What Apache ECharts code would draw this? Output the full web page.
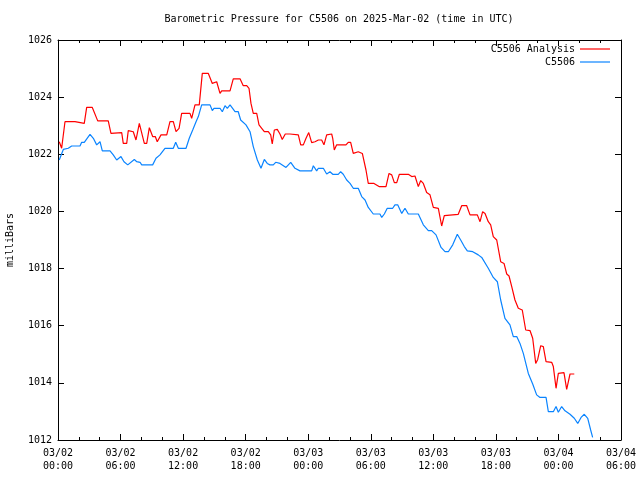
<!DOCTYPE html>
<html>
<head>
<meta charset="utf-8">
<script src="https://cdn.jsdelivr.net/npm/echarts@6/dist/echarts.min.js"></script>
<style>html,body{margin:0;padding:0;background:#fff}#c{width:640px;height:480px}</style>
</head>
<body>
<div id="c"></div>
<script>
// Hours since 2025-03-02 00:00 UTC
const xTickLabels = ['03/02\n00:00','03/02\n06:00','03/02\n12:00','03/02\n18:00','03/03\n00:00','03/03\n06:00','03/03\n12:00','03/03\n18:00','03/04\n00:00','03/04\n06:00'];
const yTicks = [1012, 1014, 1016, 1018, 1020, 1022, 1024, 1026];

const analysisTime = [0.12,0.35,0.67,1.63,1.79,2.52,2.75,3.29,3.81,4.82,5.08,6.11,6.26,6.59,6.74,7.22,7.48,7.80,8.28,8.51,8.76,9.08,9.33,9.52,9.88,10.43,10.74,11.06,11.32,11.61,11.86,12.66,12.82,13.14,13.55,13.84,14.42,14.58,14.80,15.22,15.54,15.70,16.50,16.81,17.46,17.77,18.10,18.32,18.51,18.73,19.06,19.28,19.54,19.79,20.17,20.40,20.55,20.75,21.03,21.29,21.51,21.80,22.25,22.42,23.05,23.28,23.53,23.79,24.05,24.33,24.65,24.97,25.29,25.51,25.77,26.25,26.35,26.50,26.73,27.62,27.84,28.07,28.32,28.80,29.19,29.54,29.76,30.31,30.50,30.79,31.46,31.75,32.01,32.26,32.49,32.74,33.60,33.93,34.24,34.56,34.79,35.04,35.36,35.68,36.00,36.48,36.80,37.05,38.39,38.72,39.20,39.52,40.22,40.48,40.73,40.96,41.27,41.50,41.75,42.08,42.46,42.78,43.04,43.26,43.52,43.83,44.15,44.53,44.86,45.27,45.53,45.82,46.01,46.30,46.55,46.81,47.35,47.51,47.77,47.99,48.53,48.79,49.11,49.52];
const analysisValue = [1022.44,1022.21,1023.14,1023.14,1023.08,1023.08,1023.64,1023.64,1023.17,1023.17,1022.73,1022.76,1022.38,1022.38,1022.83,1022.79,1022.50,1023.08,1022.38,1022.38,1022.93,1022.62,1022.62,1022.44,1022.68,1022.68,1023.14,1023.14,1022.79,1022.91,1023.43,1023.43,1023.26,1023.73,1023.73,1024.83,1024.83,1024.78,1024.48,1024.54,1024.13,1024.22,1024.22,1024.64,1024.64,1024.40,1024.40,1024.31,1023.78,1023.43,1023.43,1023.03,1022.91,1022.79,1022.79,1022.68,1022.36,1022.85,1022.87,1022.71,1022.52,1022.71,1022.71,1022.68,1022.68,1022.33,1022.33,1022.56,1022.76,1022.41,1022.44,1022.50,1022.50,1022.33,1022.68,1022.71,1022.56,1022.15,1022.33,1022.33,1022.42,1022.42,1022.03,1022.09,1022.03,1021.45,1020.98,1020.98,1021.04,1020.87,1020.87,1021.33,1021.28,1021.01,1021.01,1021.30,1021.30,1021.22,1021.24,1020.87,1021.08,1020.98,1020.66,1020.58,1020.14,1020.11,1019.49,1019.85,1019.90,1020.20,1020.20,1019.88,1019.88,1019.64,1019.99,1019.93,1019.64,1019.53,1019.12,1019.00,1018.24,1018.18,1017.81,1017.74,1017.37,1016.90,1016.61,1016.55,1015.85,1015.83,1015.56,1014.68,1014.82,1015.30,1015.27,1014.74,1014.72,1014.57,1013.81,1014.33,1014.36,1013.77,1014.31,1014.31];

const stationTime = [0.12,0.51,0.99,1.31,2.11,2.27,2.52,3.07,3.39,3.71,4.03,4.25,4.99,5.30,5.63,5.78,6.04,6.33,6.69,7.32,7.55,7.87,8.03,9.08,9.40,9.78,10.26,11.06,11.29,11.54,12.28,12.59,12.92,13.24,13.46,13.78,14.58,14.80,14.96,15.54,15.76,16.02,16.24,16.50,16.98,17.29,17.52,18.03,18.42,18.73,19.12,19.47,19.79,20.07,20.33,20.65,20.88,21.29,21.87,22.32,22.73,23.21,24.33,24.49,24.81,24.97,25.45,25.77,26.09,26.35,26.88,27.11,27.36,27.69,28.01,28.32,28.80,29.13,29.45,29.76,30.24,30.88,31.05,31.30,31.58,32.10,32.32,32.58,32.97,33.28,33.60,34.56,35.04,35.52,35.84,36.26,36.74,37.12,37.44,37.86,38.30,38.65,38.97,39.26,39.78,40.31,40.64,40.79,41.27,41.75,42.14,42.46,42.87,43.35,43.67,44.00,44.31,44.63,45.11,45.53,45.91,46.23,46.81,47.03,47.51,47.77,47.99,48.31,48.63,49.11,49.52,49.85,50.17,50.48,50.81,51.09,51.28];
const stationValue = [1021.80,1022.17,1022.21,1022.29,1022.29,1022.42,1022.42,1022.70,1022.56,1022.33,1022.44,1022.12,1022.12,1021.98,1021.80,1021.74,1021.92,1021.74,1021.63,1021.82,1021.74,1021.72,1021.63,1021.63,1021.86,1021.98,1022.21,1022.21,1022.42,1022.21,1022.21,1022.56,1022.85,1023.14,1023.32,1023.73,1023.73,1023.53,1023.61,1023.61,1023.49,1023.70,1023.61,1023.73,1023.49,1023.49,1023.20,1023.03,1022.79,1022.27,1021.80,1021.51,1021.82,1021.68,1021.63,1021.63,1021.72,1021.68,1021.54,1021.72,1021.51,1021.42,1021.42,1021.60,1021.42,1021.51,1021.51,1021.31,1021.39,1021.30,1021.30,1021.39,1021.30,1021.10,1020.98,1020.81,1020.81,1020.52,1020.40,1020.14,1019.91,1019.91,1019.79,1019.91,1020.11,1020.11,1020.23,1020.23,1019.93,1020.11,1019.91,1019.91,1019.53,1019.33,1019.33,1019.18,1018.74,1018.59,1018.59,1018.83,1019.20,1018.98,1018.77,1018.62,1018.59,1018.48,1018.39,1018.39,1018.01,1017.69,1017.54,1016.90,1016.26,1016.03,1015.62,1015.62,1015.38,1015.03,1014.33,1013.96,1013.58,1013.49,1013.49,1012.99,1012.99,1013.17,1012.97,1013.17,1013.02,1012.90,1012.76,1012.58,1012.79,1012.90,1012.76,1012.35,1012.09];

const FONT = 'DejaVu Sans Mono';
const zip = (a, b) => a.map((t, i) => [t, b[i]]);

const chart = echarts.init(document.getElementById('c'), null, {renderer: 'canvas'});
const axisLine = {show: true, onZero: false, lineStyle: {color: '#000', width: 1}};
const xBase = {
  type: 'value', min: 0, max: 54, interval: 6,
  axisLine: axisLine,
  axisTick: {show: true, inside: true, length: 6, lineStyle: {color: '#000'}},
  minorTick: {show: true, splitNumber: 3, length: 3, lineStyle: {color: '#000'}},
  splitLine: {show: false}
};
const yBase = {
  type: 'value', min: yTicks[0], max: yTicks[yTicks.length - 1], interval: 2,
  axisLine: axisLine,
  axisTick: {show: true, inside: true, length: 6, lineStyle: {color: '#000'}},
  splitLine: {show: false}
};
const lineIcon = 'path://M0,0L30,0L30,1.2L0,1.2Z';

chart.setOption({
  animation: false,
  backgroundColor: '#fff',
  textStyle: {fontFamily: FONT},
  title: {
    text: 'Barometric Pressure for C5506 on 2025-Mar-02 (time in UTC)',
    left: 339, top: 14, padding: 0, textAlign: 'center',
    textStyle: {fontFamily: FONT, fontSize: 10, fontWeight: 'normal', color: '#000'}
  },
  grid: {left: 58, right: 19, top: 40, bottom: 40, containLabel: false, outerBoundsMode: 'none'},
  legend: {
    orient: 'vertical', right: 25, top: 38, align: 'right',
    itemWidth: 30, itemHeight: 13, itemGap: 1,
    textStyle: {fontFamily: FONT, fontSize: 10, color: '#000', lineHeight: 12},
    data: [{name: 'C5506 Analysis', icon: lineIcon}, {name: 'C5506', icon: lineIcon}]
  },
  xAxis: [
    Object.assign({}, xBase, {
      position: 'bottom',
      axisLabel: {
        show: true, margin: 7, color: '#000', fontFamily: FONT, fontSize: 10, lineHeight: 13,
        formatter: v => xTickLabels[Math.round(v / 6)] || ''
      }
    }),
    Object.assign({}, xBase, {position: 'top', axisLabel: {show: false}})
  ],
  yAxis: [
    Object.assign({}, yBase, {
      position: 'left',
      name: 'milliBars', nameLocation: 'middle', nameGap: 43, nameRotate: 90,
      nameTextStyle: {fontFamily: FONT, fontSize: 10, color: '#000'},
      axisLabel: {show: true, margin: 6, color: '#000', fontFamily: FONT, fontSize: 10,
        formatter: v => String(v)}
    }),
    Object.assign({}, yBase, {position: 'right', axisLabel: {show: false}})
  ],
  series: [
    {
      name: 'C5506 Analysis', type: 'line', xAxisIndex: 0, yAxisIndex: 0,
      data: zip(analysisTime, analysisValue), symbol: 'none', showSymbol: false,
      lineStyle: {color: '#ff0000', width: 1.2}, itemStyle: {color: '#ff0000'}, clip: true
    },
    {
      name: 'C5506', type: 'line', xAxisIndex: 0, yAxisIndex: 0,
      data: zip(stationTime, stationValue), symbol: 'none', showSymbol: false,
      lineStyle: {color: '#0a84ff', width: 1.2}, itemStyle: {color: '#0a84ff'}, clip: true
    }
  ]
});
</script>
</body>
</html>
